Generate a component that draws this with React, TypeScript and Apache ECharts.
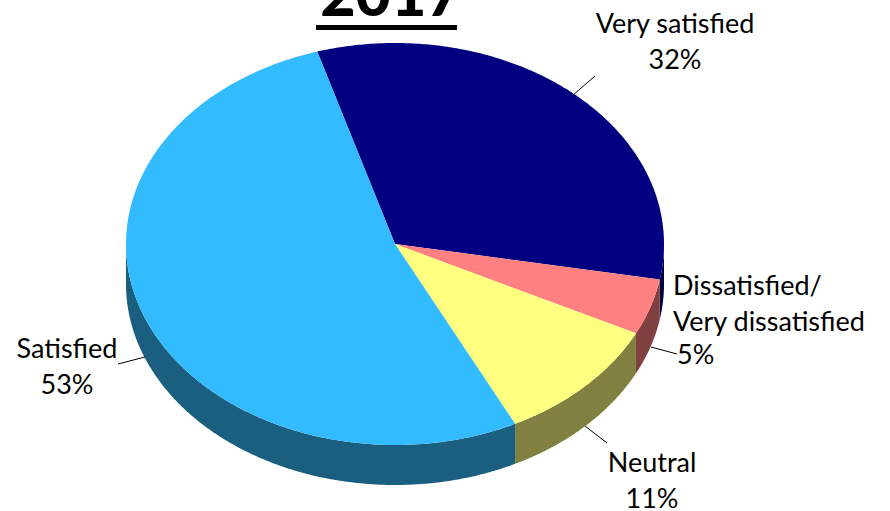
import React, { useEffect, useRef } from "react";
import * as echarts from "echarts";

const categories = ["Very satisfied", "Dissatisfied/\nVery dissatisfied", "Neutral", "Satisfied"];
const shares = [32.5, 4.5, 10.3, 52.7];
const percentLabels = ["32%", "5%", "11%", "53%"];
const topColors = ["#000080", "#FF8080", "#FFFF80", "#33BBFF"];
const wallColors = ["#000040", "#804040", "#808040", "#1A5E80"];
const titleText = "2017";

const FONT = "Lato";
const LABEL_SIZE = 27;
const cx = 395, cy = 244, rx = 269, ry = 201, depth = 40;
const startDeg = -16.8;

// label placement per slice: each text line with anchor + leader line end points
const labelLayout = [
  { leader: [[573, 95], [595, 76]], lines: [[675, 22, "center"], [675, 58, "center"]] },
  { leader: [[651, 347], [677, 354]], lines: [[673, 284, "left"], [673, 320, "left"], [677, 353, "left"]] },
  { leader: [[585, 426], [607, 443]], lines: [[652, 461, "center"], [652, 497, "center"]] },
  { leader: [[118, 364], [145, 357]], lines: [[67, 347, "center"], [67, 383, "center"]] },
];

const pt = (deg: number, dy = 0) => {
  const t = (deg * Math.PI) / 180;
  return [cx + rx * Math.sin(t), cy - ry * Math.cos(t) + dy];
};

const arc = (a: number, b: number, dy = 0) => {
  const n = Math.max(2, Math.ceil(Math.abs(b - a) * 2));
  const out: number[][] = [];
  for (let i = 0; i <= n; i++) out.push(pt(a + ((b - a) * i) / n, dy));
  return out;
};

export default function App() {
  const ref = useRef<HTMLDivElement>(null);
  useEffect(() => {
    document.body.style.margin = "0";
    const chart = echarts.init(ref.current!, undefined, { renderer: "svg" });
    const total = shares.reduce((a, b) => a + b, 0);
    const spans: number[][] = [];
    let acc = startDeg;
    shares.forEach((v) => {
      const next = acc + (v / total) * 360;
      spans.push([acc, next]);
      acc = next;
    });
    chart.setOption({
      animation: false,
      backgroundColor: "#ffffff",
      title: {
        text: titleText,
        left: 386,
        top: -43,
        textAlign: "center",
        textStyle: { fontFamily: FONT, fontWeight: 900, fontSize: 61, color: "#000000" },
      },
      graphic: [{ type: "rect", shape: { x: 316, y: 25, width: 141, height: 5 }, style: { fill: "#000000" } }],
      series: [
        {
          type: "custom",
          coordinateSystem: "none",
          silent: true,
          clip: false,
          data: shares.map((value, i) => ({ value, name: categories[i] })),
          renderItem: (params: any) => {
            const i = params.dataIndex;
            const [a, b] = spans[i];
            const children: any[] = [];
            const wa = Math.max(a, 90), wb = Math.min(b, 270);
            if (wb > wa) {
              children.push({
                type: "polygon",
                shape: { points: [...arc(wa, wb), ...arc(wb, wa, depth)] },
                style: { fill: wallColors[i] },
              });
            }
            children.push({
              type: "polygon",
              shape: { points: [[cx, cy], ...arc(a, b)] },
              style: { fill: topColors[i] },
            });
            const lay = labelLayout[i];
            children.push({
              type: "line",
              shape: { x1: lay.leader[0][0], y1: lay.leader[0][1], x2: lay.leader[1][0], y2: lay.leader[1][1] },
              style: { stroke: "#000000", lineWidth: 1 },
            });
            const texts = [...categories[i].split("\n"), percentLabels[i]];
            texts.forEach((t, k) => {
              const [x, y, align] = lay.lines[k] as [number, number, string];
              children.push({
                type: "text",
                x,
                y,
                style: { text: t, fill: "#000000", fontFamily: FONT, fontSize: LABEL_SIZE, lineHeight: 26, align, verticalAlign: "middle" },
              });
            });
            return { type: "group", children };
          },
        },
      ],
    });
    return () => chart.dispose();
  }, []);
  return <div ref={ref} style={{ width: 890, height: 511 }} />;
}
